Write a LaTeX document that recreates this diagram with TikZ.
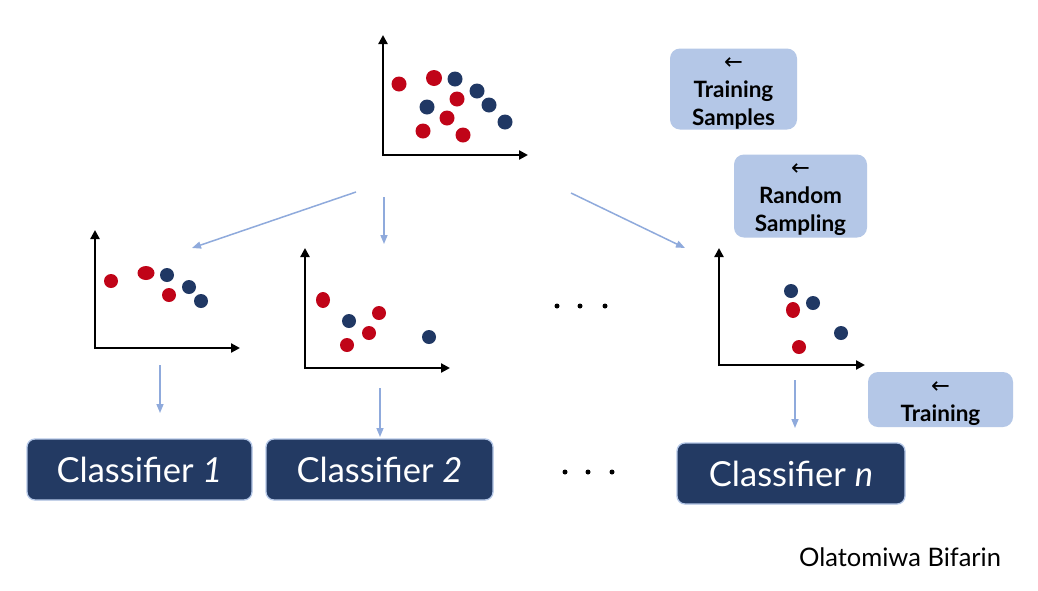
\documentclass[tikz,border=0pt]{standalone}
\usepackage{fontspec}
\setmainfont{Lato}
\newfontfamily\symfont{DejaVu Sans}
\usetikzlibrary{arrows.meta}
\definecolor{navy}{HTML}{233A63}
\definecolor{dotred}{HTML}{C00418}
\definecolor{dotblue}{HTML}{203864}
\definecolor{boxblue}{HTML}{B4C7E7}
\definecolor{arrblue}{HTML}{8FAADC}
\newcommand\larr{\rule{0pt}{20pt}{\symfont\mdseries ←}}
\begin{document}
\begin{tikzpicture}[x=1pt,y=-1pt,
 axis/.style={line width=2.3pt, -{Triangle[length=9pt,width=9pt]}},
 flow/.style={arrblue, line width=1.5pt, -{Triangle[length=9pt,width=7pt]}},
 rd/.style={fill=dotred}, bd/.style={fill=dotblue},
 lbl/.style={rectangle, rounded corners=10pt, fill=boxblue, font=\bfseries\fontsize{22.5}{28}\selectfont, align=center, inner sep=0pt},
 cls/.style={rectangle, rounded corners=8pt, fill=navy, draw=boxblue, line width=1.3pt, text=white, font=\fontsize{34.5}{40}\selectfont, minimum height=61pt, inner sep=0pt},
 dotmark/.style={circle, fill=black, inner sep=0pt, minimum size=5pt}]
\useasboundingbox (0,0) rectangle (1038,590);
\fill[white] (0,0) rectangle (1038,590);

% top plot
\draw[axis] (383,156) -- (383,35);
\draw[axis] (382,155) -- (528,155);
\fill[rd] (399,84) circle (7.5);
\fill[rd] (434,78) circle (8);
\fill[bd] (455,79) circle (7.5);
\fill[bd] (477,91) circle (7.5);
\fill[rd] (457,99) circle (7.5);
\fill[bd] (427,107) circle (7.5);
\fill[bd] (489,105) circle (7.5);
\fill[rd] (447,118) circle (7.5);
\fill[bd] (505,122) circle (7.5);
\fill[rd] (423,131) circle (7.5);
\fill[rd] (463,135) circle (7.5);

% plot 1
\draw[axis] (95,349) -- (95,230);
\draw[axis] (94,348) -- (240,348);
\fill[rd] (111,281) circle (7);
\fill[rd] (146,273) ellipse [x radius=8.5, y radius=7];
\fill[bd] (167,275) circle (7);
\fill[rd] (169,295) circle (7);
\fill[bd] (189,287) circle (7);
\fill[bd] (201,301) circle (7);

% plot 2
\draw[axis] (305,369) -- (305,248);
\draw[axis] (304,368) -- (450,368);
\fill[rd] (323,300) ellipse [x radius=7, y radius=8];
\fill[bd] (349,321) circle (7);
\fill[rd] (379,313) circle (7);
\fill[rd] (369,333) circle (7);
\fill[rd] (347,345) circle (7);
\fill[bd] (429,337) circle (7);

% plot n
\draw[axis] (719,366) -- (719,248);
\draw[axis] (718,365) -- (865,365);
\fill[bd] (791,291) circle (7);
\fill[rd] (793,310) ellipse [x radius=7, y radius=8];
\fill[bd] (813,303) circle (7);
\fill[bd] (841,333) circle (7);
\fill[rd] (799,347) circle (7);

% flow connector endpoints
\coordinate (t1) at (356,192); \coordinate (h1) at (192,248);
\coordinate (t2) at (384,197); \coordinate (h2) at (384,244);
\coordinate (t3) at (571,193); \coordinate (h3) at (685,248);
\coordinate (p1) at (160,365); \coordinate (p2) at (380,388); \coordinate (pn) at (795,380);
\coordinate (q1) at (160,413); \coordinate (q2) at (380,437); \coordinate (qn) at (795,428);

% label boxes
\node[lbl, minimum width=127pt, minimum height=81pt] (ts) at (733.5,89) {\larr\\Training\\Samples};
\node[lbl, minimum width=133pt, minimum height=83pt] (rs) at (800.5,196) {\larr\\Random\\Sampling};
\node[lbl, minimum width=145pt, minimum height=55pt] (tr) at (940.5,399.5) {\larr\\Training};

% classifier boxes
\node[cls, minimum width=225pt] (c1) at (139.5,469.5) {Classifier \textit{1}};
\node[cls, minimum width=227pt] (c2) at (379.5,469.5) {Classifier \textit{2}};
\node[cls, minimum width=228pt] (cn) at (791,473.5) {Classifier \textit{n}};

\draw[flow] (t1) -- (h1);
\draw[flow] (t2) -- (h2);
\draw[flow] (t3) -- (h3);
\draw[flow] (p1) -- (q1);
\draw[flow] (p2) -- (q2);
\draw[flow] (pn) -- (qn);

% ellipsis dots
\node[dotmark] (d1) at (557,306) {};
\node[dotmark] (d2) at (580,306) {};
\node[dotmark] (d3) at (605,306) {};
\node[dotmark] (e1) at (565,472) {};
\node[dotmark] (e2) at (588,472) {};
\node[dotmark] (e3) at (612,472) {};

\node[font=\fontsize{25.5}{30}\selectfont] (author) at (900,557) {Olatomiwa Bifarin};
\end{tikzpicture}
\end{document}
